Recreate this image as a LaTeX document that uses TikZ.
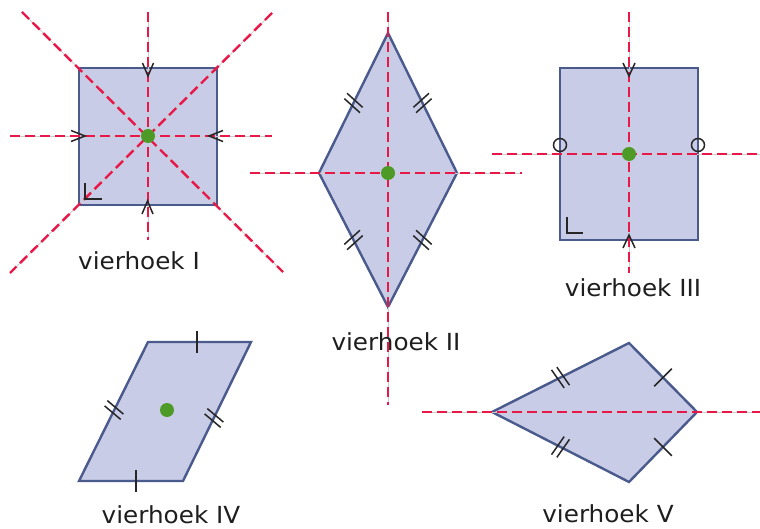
\documentclass[tikz,border=0pt]{standalone}
\usepackage{fontspec}
\setmainfont{DejaVu Sans}
\usetikzlibrary{calc}
\definecolor{shapefill}{RGB}{200,204,230}
\definecolor{shapeedge}{RGB}{74,90,140}
\definecolor{axisred}{RGB}{232,24,72}
\definecolor{centergreen}{RGB}{78,154,38}
\definecolor{labelgray}{RGB}{30,30,30}
\tikzset{
  quad/.style={fill=shapefill, draw=shapeedge, line width=2.4pt, line join=miter},
  axisline/.style={draw=axisred, line width=2.4pt, dash pattern=on 10pt off 5pt},
  axisbase/.style={draw=gray!40, line width=0.8pt},
  markline/.style={draw=black!85, line width=1.5pt},
  cdot/.style={circle, fill=centergreen, inner sep=0pt, minimum size=14pt},
  lbl/.style={font=\fontsize{23.5}{28}\selectfont\addfontfeature{FakeStretch=1.05}, text=labelgray, anchor=base, inner sep=0pt}
}
\newcommand\symline[2]{\draw[axisbase] (#1) -- (#2); \draw[axisline] (#1) -- (#2);}
\newcommand\twoticks[4]{%
  \draw[markline] ($(#1)+(#2:3)+(#3:#4)$) -- ($(#1)+(#2:3)+(#3+180:#4)$);
  \draw[markline] ($(#1)+(#2+180:3)+(#3:#4)$) -- ($(#1)+(#2+180:3)+(#3+180:#4)$);}
\newcommand\oneticks[3]{%
  \draw[markline] ($(#1)+(#2:#3)$) -- ($(#1)+(#2+180:#3)$);}
\begin{document}
\begin{tikzpicture}[x=1pt,y=-1pt]
\useasboundingbox (0,0) rectangle (760,529);

% ---------- vierhoek I (square) ----------
\coordinate (IA) at (79,68);
\coordinate (IB) at (217,68);
\coordinate (IC) at (217,205);
\coordinate (ID) at (79,205);
\coordinate (IO) at (148,136);
\draw[quad] (IA) -- (IB) -- (IC) -- (ID) -- cycle;
\coordinate (Iv1) at (148,12);  \coordinate (Iv2) at (148,240);
\coordinate (Ih1) at (10,136);  \coordinate (Ih2) at (272,136);
\coordinate (Id1) at (22,12);   \coordinate (Id2) at (283,272);
\coordinate (Ie1) at (272,13);  \coordinate (Ie2) at (10,273);
\symline{Iv1}{Iv2}
\symline{Ih1}{Ih2}
\symline{Id1}{Id2}
\symline{Ie1}{Ie2}
\draw[markline] (142.5,63) -- (148,76) -- (153.5,63);
\draw[markline] (142,214) -- (147.5,201) -- (153,214);
\draw[markline] (71,130.5) -- (85,136) -- (71,141.5);
\draw[markline] (223,130.5) -- (209,136) -- (223,141.5);
\draw[markline] (85,183) -- (85,199) -- (102,199);
\node[cdot] (dotI) at (IO) {};
\node[lbl] (lblI) at (139,270) {vierhoek I};

% ---------- vierhoek II (rhombus) ----------
\coordinate (IIT) at (388,33);
\coordinate (IIR) at (457,173);
\coordinate (IIB) at (388,307);
\coordinate (IIL) at (319,173);
\coordinate (IIO) at (388,173);
\draw[quad] (IIT) -- (IIR) -- (IIB) -- (IIL) -- cycle;
\coordinate (IIv1) at (388,12);  \coordinate (IIv2) at (388,405);
\coordinate (IIh1) at (250,173); \coordinate (IIh2) at (522,173);
\symline{IIv1}{IIv2}
\symline{IIh1}{IIh2}
\coordinate (IIm1) at (353.5,103);
\coordinate (IIm2) at (422.5,103);
\coordinate (IIm3) at (353.5,240);
\coordinate (IIm4) at (422.5,240);
\twoticks{IIm1}{-63.8}{42}{10.5}
\twoticks{IIm2}{63.8}{-42}{10.5}
\twoticks{IIm3}{62.8}{-42}{10.5}
\twoticks{IIm4}{-62.8}{42}{10.5}
\node[cdot] (dotII) at (IIO) {};
\node[lbl] (lblII) at (396,350) {vierhoek II};

% ---------- vierhoek III (rectangle) ----------
\coordinate (IIIA) at (560,68);
\coordinate (IIIB) at (698,68);
\coordinate (IIIC) at (698,240);
\coordinate (IIID) at (560,240);
\coordinate (IIIO) at (629,154);
\draw[quad] (IIIA) -- (IIIB) -- (IIIC) -- (IIID) -- cycle;
\coordinate (IIIv1) at (629,12);  \coordinate (IIIv2) at (629,273);
\coordinate (IIIh1) at (492,154); \coordinate (IIIh2) at (760,154);
\symline{IIIv1}{IIIv2}
\symline{IIIh1}{IIIh2}
\draw[markline] (560,145) circle[radius=6.5];
\draw[markline] (698,145) circle[radius=6.5];
\draw[markline] (623,63) -- (629,76) -- (635,63);
\draw[markline] (623,248) -- (629,235) -- (635,248);
\draw[markline] (567,217) -- (567,233) -- (583,233);
\node[cdot] (dotIII) at (IIIO) {};
\node[lbl] (lblIII) at (633,297) {vierhoek III};

% ---------- vierhoek IV (parallelogram) ----------
\coordinate (IVA) at (148,342);
\coordinate (IVB) at (251,342);
\coordinate (IVC) at (183,481);
\coordinate (IVD) at (79,481);
\draw[quad] (IVA) -- (IVB) -- (IVC) -- (IVD) -- cycle;
\draw[markline] (197,331) -- (197,353);
\draw[markline] (136,470) -- (136,492);
\coordinate (IVm1) at (114,410);
\coordinate (IVm2) at (214,418);
\twoticks{IVm1}{-63.6}{40}{10.5}
\twoticks{IVm2}{-63.6}{40}{10.5}
\node[cdot] (dotIV) at (167,410) {};
\node[lbl] (lblIV) at (171,523) {vierhoek IV};

% ---------- vierhoek V (kite) ----------
\coordinate (VL) at (492,412);
\coordinate (VT) at (629,343);
\coordinate (VR) at (697,412);
\coordinate (VB) at (629,482);
\draw[quad] (VL) -- (VT) -- (VR) -- (VB) -- cycle;
\coordinate (Vh1) at (422,412); \coordinate (Vh2) at (760,412);
\symline{Vh1}{Vh2}
\coordinate (Vm1) at (560.5,377.5);
\coordinate (Vm2) at (560.5,447);
\coordinate (Vm3) at (663,377.5);
\coordinate (Vm4) at (663,447);
\twoticks{Vm1}{-26.7}{55}{11}
\twoticks{Vm2}{27}{-55}{11}
\oneticks{Vm3}{-45}{12.5}
\oneticks{Vm4}{45}{12.5}
\node[lbl] (lblV) at (608,522) {vierhoek V};
\end{tikzpicture}
\end{document}
